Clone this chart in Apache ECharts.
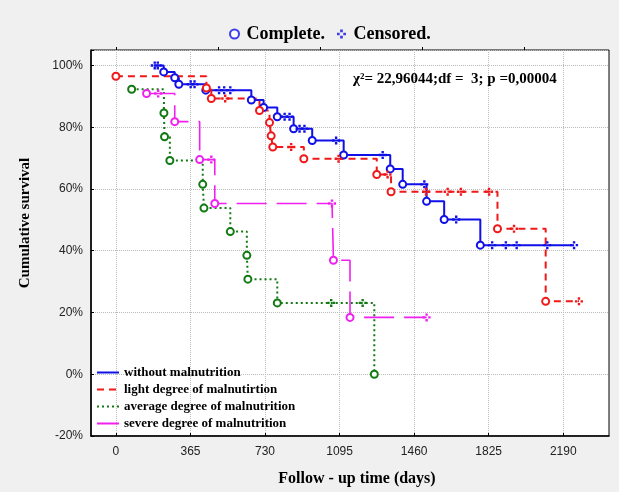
<!DOCTYPE html>
<html>
<head>
<meta charset="utf-8">
<script src="https://cdn.jsdelivr.net/npm/echarts@6/dist/echarts.min.js"></script>
<style>
html, body { margin: 0; padding: 0; background: #fff; }
#chart { width: 619px; height: 492px; }
</style>
</head>
<body>
<div id="chart"></div>
<script>
// tick labels
var xTicks = [0, 365, 730, 1095, 1460, 1825, 2190];
var xTopTicks = [0, 500, 1000, 1500, 2000];

// status: 1 = complete, 0 = censored
var withoutT = [190, 205, 234, 288, 308, 366, 385, 440, 505, 530, 560, 663, 723, 790, 826, 850, 870, 899, 923, 961, 1078, 1115, 1306, 1343, 1404, 1510, 1521, 1607, 1666, 1784, 1842, 1909, 1962, 2112, 2243];
var withoutS = [100, 100, 97.9, 96.0, 93.9, 93.9, 93.9, 92.0, 92.0, 92.0, 92.0, 88.8, 86.4, 83.4, 83.4, 83.4, 79.5, 79.5, 79.5, 75.7, 75.7, 71.0, 71.0, 66.5, 61.5, 61.5, 56.0, 50.1, 50.1, 41.8, 41.8, 41.8, 41.8, 41.8, 41.8];
var withoutC = [0, 0, 1, 1, 1, 0, 0, 1, 0, 0, 0, 1, 1, 1, 0, 0, 1, 0, 0, 1, 0, 1, 0, 1, 1, 0, 1, 1, 0, 1, 0, 0, 0, 0, 0];

var lightT = [0, 443, 467, 535, 703, 752, 760, 768, 858, 920, 1090, 1277, 1330, 1347, 1518, 1624, 1689, 1827, 1868, 1949, 2104, 2267];
var lightS = [96.5, 92.7, 89.3, 89.3, 85.4, 81.5, 77.2, 73.6, 73.6, 69.8, 69.8, 64.7, 64.7, 59.1, 59.1, 59.1, 59.1, 59.1, 47.1, 47.1, 23.6, 23.6];
var lightC = [1, 1, 1, 0, 1, 1, 1, 1, 0, 1, 0, 1, 0, 1, 0, 0, 0, 0, 1, 0, 1, 0];

var averageT = [77, 235, 238, 264, 425, 431, 560, 641, 646, 790, 1054, 1208, 1265];
var averageS = [92.3, 84.6, 76.9, 69.2, 61.5, 53.8, 46.2, 38.5, 30.8, 23.1, 23.1, 23.1, 0];
var averageC = [1, 1, 1, 1, 1, 1, 1, 1, 1, 1, 0, 0, 1];

var severeT = [150, 207, 288, 410, 467, 484, 1058, 1065, 1146, 1521];
var severeS = [90.9, 90.9, 81.8, 69.5, 69.5, 55.3, 55.3, 36.9, 18.4, 18.4];
var severeC = [1, 0, 1, 1, 0, 1, 0, 1, 1, 0];

var censoredSymbol = 'path://M3.5,0h3v3h-3z M0,3.5h3v3h-3z M7,3.5h3v3h-3z M3.5,7h3v3h-3z';
var serif = 'Liberation Serif';

function kmData(t, s, c, color) {
    var out = [];
    for (var i = 0; i < t.length; i++) {
        if (c[i]) {
            out.push({ value: [t[i], s[i]], symbol: 'circle', symbolSize: 7,
                itemStyle: { color: '#fff', borderColor: color, borderWidth: 2 } });
        } else {
            out.push({ value: [t[i], s[i]], symbol: censoredSymbol, symbolSize: 8,
                itemStyle: { color: color, borderWidth: 0 } });
        }
    }
    return out;
}

function kmSeries(name, t, s, c, color, type, width) {
    return {
        name: name,
        type: 'line',
        step: 'end',
        color: color,
        showSymbol: true,
        symbol: 'circle',
        lineStyle: { color: color, width: width, type: type },
        data: kmData(t, s, c, color),
        z: 3
    };
}

var chart = echarts.init(document.getElementById('chart'));
chart.setOption({
    animation: false,
    backgroundColor: '#f0f0f0',
    title: {
        text: 'χ²= 22,96044;df =  3; p =0,00004',
        left: 353,
        top: 72,
        padding: 0,
        textStyle: { fontFamily: serif, fontWeight: 'bold', fontSize: 15, color: '#000' }
    },
    legend: [
        {
            orient: 'vertical',
            left: 91,
            top: 361,
            itemWidth: 22,
            itemHeight: 12,
            itemGap: 4,
            itemStyle: { opacity: 0 },
            textStyle: { fontFamily: serif, fontWeight: 'bold', fontSize: 13, color: '#000' },
            data: ['without malnutrition', 'light degree of malnutirtion', 'average degree of malnutrition', 'severe degree of malnutrition']
        },
        {
            orient: 'horizontal',
            left: 224,
            top: 20,
            itemWidth: 14,
            itemHeight: 9,
            itemGap: 12,
            textStyle: { fontFamily: serif, fontWeight: 'bold', fontSize: 18, color: '#000' },
            data: ['Complete.', 'Censored.']
        }
    ],
    grid: {
        left: 91, right: 10, top: 50, bottom: 53,
        show: true, backgroundColor: '#fff', borderColor: '#000', borderWidth: 1
    },
    xAxis: [
        {
            type: 'value',
            min: -122,
            max: 2414,
            name: 'Follow - up time (days)',
            nameLocation: 'middle',
            nameGap: 35,
            nameTextStyle: { fontFamily: serif, fontWeight: 'bold', fontSize: 16, color: '#000', padding: [0, 0, 0, 14] },
            axisLine: { show: true, onZero: false, lineStyle: { color: '#000', width: 1.5 } },
            axisTick: { show: true, inside: true, length: 3, customValues: xTicks, lineStyle: { color: '#000' } },
            axisLabel: {
                customValues: xTicks, margin: 10, fontFamily: 'Liberation Sans', fontSize: 12, color: '#222',
                formatter: function (v) { return String(v); }
            },
            splitLine: { show: true, lineStyle: { color: '#bbb', type: 'dotted', width: 1 } }
        },
        {
            type: 'value',
            position: 'top',
            min: -122,
            max: 2414,
            axisLine: { show: false, onZero: false },
            axisTick: { show: true, inside: false, length: 3, customValues: xTopTicks, lineStyle: { color: '#000' } },
            axisLabel: { show: false },
            splitLine: { show: false }
        }
    ],
    yAxis: {
        type: 'value',
        min: -20,
        max: 105,
        interval: 20,
        name: 'Cumulative survival',
        nameLocation: 'middle',
        nameGap: 58,
        nameTextStyle: { fontFamily: serif, fontWeight: 'bold', fontSize: 15, color: '#000', padding: [0, 0, 0, 40] },
        axisLine: { show: true, onZero: false, lineStyle: { color: '#000', width: 1.5 } },
        axisTick: { show: true, inside: true, length: 3, lineStyle: { color: '#000' } },
        axisLabel: {
            margin: 8, fontFamily: 'Liberation Sans', fontSize: 12, color: '#222',
            formatter: function (v) { return v % 20 === 0 ? v + '%' : ''; }
        },
        splitLine: { show: true, lineStyle: { color: '#bbb', type: 'dotted', width: 1 } }
    },
    series: [
        kmSeries('without malnutrition', withoutT, withoutS, withoutC, '#1010e8', 'solid', 2),
        kmSeries('light degree of malnutirtion', lightT, lightS, lightC, '#f01818', [7, 5], 2),
        kmSeries('average degree of malnutrition', averageT, averageS, averageC, '#127a12', [2, 3], 2),
        kmSeries('severe degree of malnutrition', severeT, severeS, severeC, '#f020f0', [30, 10], 1.6),
        { name: 'Complete.', type: 'scatter', data: [], symbol: 'circle', symbolSize: 8,
          itemStyle: { color: '#fff', borderColor: '#1010e8', borderWidth: 2 } },
        { name: 'Censored.', type: 'scatter', data: [], symbol: censoredSymbol, symbolSize: 8,
          itemStyle: { color: '#1010e8' } }
    ]
});
</script>
</body>
</html>
